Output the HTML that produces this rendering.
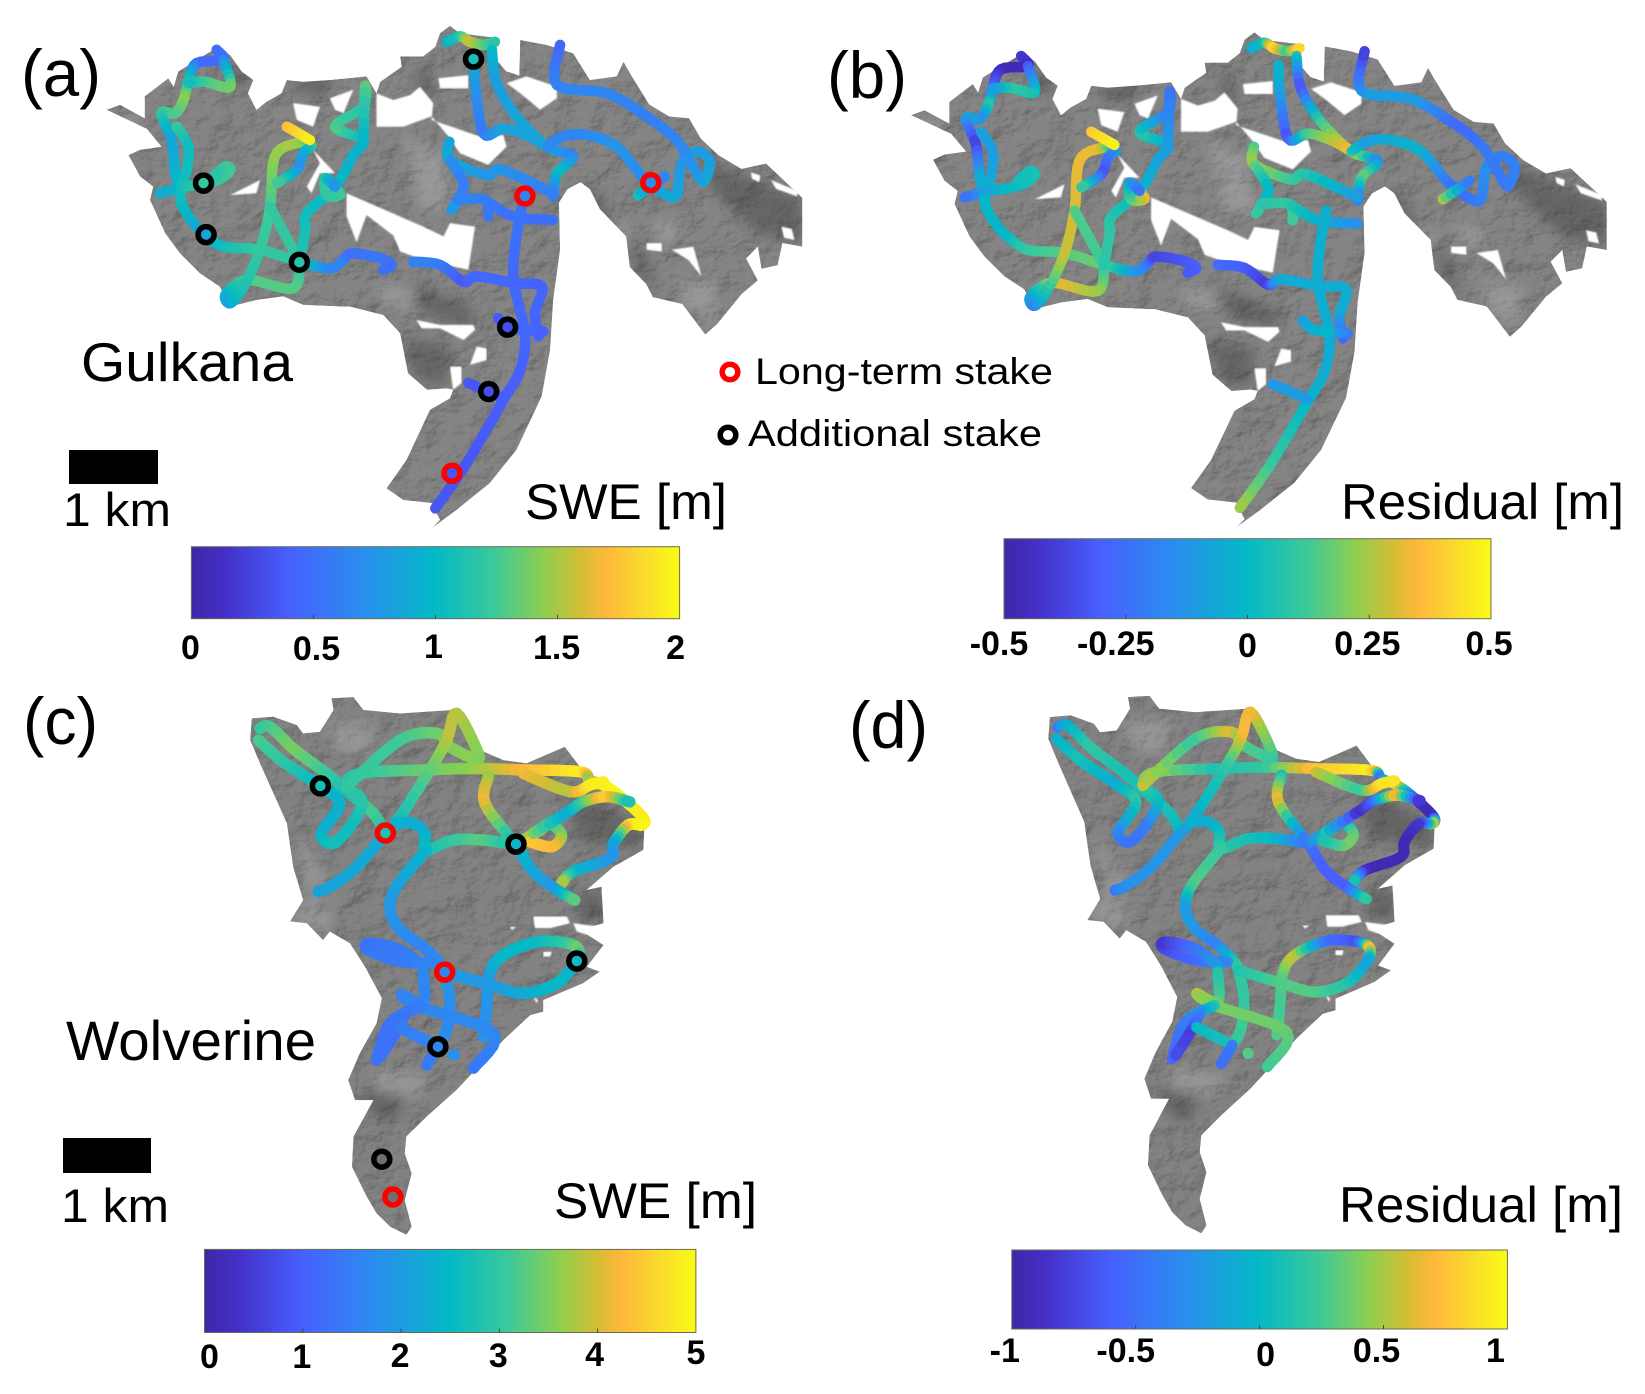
<!DOCTYPE html>
<html lang="en">
<head>
<meta charset="utf-8">
<title>Gulkana and Wolverine SWE and residual maps</title>
<style>
html,body{margin:0;padding:0;background:#fff;}
#figure{display:block;width:1645px;height:1394px;}
text{font-family:"Liberation Sans",sans-serif;fill:#000;}
.tick{font-weight:bold;font-size:34px;text-anchor:middle;}
</style>
</head>
<body>
<svg id="figure" xmlns="http://www.w3.org/2000/svg" width="1645" height="1394" viewBox="0 0 1645 1394">
<defs>
<filter id="hill" x="0" y="0" width="1" height="1" color-interpolation-filters="sRGB">
<feTurbulence type="fractalNoise" baseFrequency="0.035 0.045" numOctaves="4" seed="11" result="n"/>
<feDiffuseLighting in="n" surfaceScale="2" diffuseConstant="1.15" lighting-color="#fff" result="l"><feDistantLight azimuth="220" elevation="58"/></feDiffuseLighting>
<feBlend in="SourceGraphic" in2="l" mode="multiply" result="b"/>
<feComposite in="b" in2="SourceAlpha" operator="in"/>
</filter>
<filter id="soft" x="-30%" y="-30%" width="160%" height="160%"><feGaussianBlur stdDeviation="6"/></filter>
<filter id="edge" x="-2%" y="-2%" width="104%" height="104%"><feGaussianBlur stdDeviation="0.7"/></filter>
</defs>
<g id="maps"></g>
<g id="tracks"></g>
<g id="stakes"></g>
<g id="colorbars"></g>

<text x="21" y="96" font-size="66" textLength="80" lengthAdjust="spacingAndGlyphs">(a)</text>
<text x="827" y="98" font-size="66" textLength="80" lengthAdjust="spacingAndGlyphs">(b)</text>
<text x="23" y="744" font-size="66" textLength="75" lengthAdjust="spacingAndGlyphs">(c)</text>
<text x="849" y="748" font-size="66" textLength="79" lengthAdjust="spacingAndGlyphs">(d)</text>

<text x="81" y="381" font-size="55" textLength="212" lengthAdjust="spacingAndGlyphs">Gulkana</text>
<text x="66" y="1060" font-size="56" textLength="250" lengthAdjust="spacingAndGlyphs">Wolverine</text>

<rect x="69" y="450" width="89" height="34" fill="#000"/>
<text x="63" y="526" font-size="47" textLength="108" lengthAdjust="spacingAndGlyphs">1 km</text>
<rect x="63" y="1138" width="88" height="35" fill="#000"/>
<text x="61" y="1222" font-size="47" textLength="108" lengthAdjust="spacingAndGlyphs">1 km</text>

<text x="525" y="519" font-size="50" textLength="202" lengthAdjust="spacingAndGlyphs">SWE [m]</text>
<text x="1341" y="519" font-size="50" textLength="283" lengthAdjust="spacingAndGlyphs">Residual [m]</text>
<text x="554" y="1218" font-size="50" textLength="203" lengthAdjust="spacingAndGlyphs">SWE [m]</text>
<text x="1339" y="1222" font-size="50" textLength="284" lengthAdjust="spacingAndGlyphs">Residual [m]</text>

<g>
<circle cx="730" cy="372" r="7.8" fill="none" stroke="#f00" stroke-width="5.5"/>
<text x="755" y="384" font-size="37" textLength="298" lengthAdjust="spacingAndGlyphs">Long-term stake</text>
<circle cx="728" cy="435" r="7.8" fill="none" stroke="#000" stroke-width="5.5"/>
<text x="748" y="446" font-size="37" textLength="294" lengthAdjust="spacingAndGlyphs">Additional stake</text>
</g>
</svg>

<script>
// Colormap anchors: position in [0,1], colour
const colorPositions = [0, 0.07, 0.2, 0.35, 0.5, 0.62, 0.72, 0.8, 0.85, 0.92, 1];
const colorHexes = ['#3f26a8','#4430c8','#4760ff','#2a8eee','#04b9c6','#3cc99a','#8ccf50','#d6bd34','#feb83a','#fad72e','#f9fb15'];

// Gulkana map geometry (map-grid units)
const gulkanaOutline = [203,247,229,236,276,266,276,217,321,176,331,195,340,161,375,135,416,105,439,124,461,161,483,180,473,210,489,247,508,229,537,210,547,180,578,184,629,180,699,172,718,210,725,184,766,150,763,127,807,127,830,105,839,75,858,58,877,75,953,86,941,127,965,160,990,170,992,90,1042,101,1093,120,1125,180,1176,172,1189,139,1205,172,1238,235,1276,262,1314,266,1336,311,1370,349,1414,380,1461,368,1530,445,1530,555,1492,547,1483,597,1452,605,1445,555,1423,582,1445,631,1414,662,1367,730,1345,753,1301,684,1245,669,1232,639,1201,601,1194,532,1144,471,1125,426,1107,410,1082,426,1066,456,1068,562,1055,675,1049,787,1033,892,985,1012,934,1087,871,1147,823,1189,839,1170,823,1132,769,1125,737,1099,775,1035,820,922,858,896,864,877,852,874,814,877,778,840,763,750,731,709,667,690,655,690,578,686,540,667,489,675,439,690,419,645,381,615,343,570,315,525,286,450,292,420,267,397,245,349,267,337,308,330,280,290];
const gulkanaHoles = [
 [661,435,807,510,846,532,858,502,906,510,893,607,807,585,763,566,750,530,699,484,680,545,661,487],
 [718,210,750,225,782,214,801,195,826,232,823,270,915,307,960,304,966,330,931,371,877,345,855,307,823,262,769,285,718,285],
 [559,232,610,240,597,285,566,270],
 [597,337,639,390,610,390,594,435,585,420,610,367],
 [629,221,674,202,655,255,639,247],
 [439,439,496,405,489,435],
 [496,191,512,191,493,247],
 [836,176,893,169,893,199,839,199],
 [966,187,1004,172,1062,195,1062,221,1030,247,992,210],
 [1233,547,1262,547,1262,566,1233,562],
 [1281,562,1322,555,1338,622,1313,585],
 [794,720,839,731,903,731,906,742,884,765,839,739,804,739],
 [909,780,928,784,928,810,896,821],
 [858,825,880,825,880,862,864,877],
 [1432,388,1450,395,1448,410,1434,402],
 [1470,405,1522,430,1520,442,1480,425],
 [1490,510,1510,515,1515,540,1495,535]
];
const gulkanaDark = [[1339,357,1530,448,1530,547,1445,525,1351,418],[770,760,860,780,850,870,790,850],[445,140,480,180,440,200,430,160],[1200,540,1240,590,1250,660,1210,600],[560,185,640,160,620,215,570,210],[950,90,945,130,900,110],[810,135,830,230,790,190],[1110,410,1150,450,1170,520,1140,500],[790,640,900,690,900,740,800,700]];
const gulkanaLight = [[1290,623,1370,640,1355,735,1300,680],[1170,490,1210,520,1190,550],[205,250,270,270,250,300],[770,300,840,340,860,470,800,470],[720,640,800,660,790,700,720,680],[1230,500,1300,500,1280,560]];

// Gulkana survey tracks: map-grid positions
const gulkanaX = [
 [413,426,375,359,350,334,308,327,334,340,305],
 [426,439,391,359],
 [337,359,356,346,346,369,392,426,496,571,629,655,671,725,747,731],
 [346,389,423,439,429,407],
 [571,559,477,445,429,440,464,496,515,524,566,594,578,566,528],
 [515,571],
 [547,591],
 [571,582,585,639,674,693,639,693,696,693],
 [639,648,623,620,639],
 [852,877,896,922,944],
 [938,947,985,1043,1093,1062,1055],
 [904,906,922,960,1004,1043],
 [1043,1074,1119,1176,1224,1241,1265,1290,1300,1329,1354,1341,1322,1290,1233,1157,1062,1068],
 [1217,1268],
 [857,858,928,957,1055],
 [858,884,877,861],
 [871,925,931],
 [925,979,1054],
 [995,982,980,1001,992,960,890,830],
 [788,839,884,909,980,1033,1020,1027],
 [1036,998],
 [950,968,998],
 [893,931,960]
];
const gulkanaY = [
 [112,135,142,184,225,255,255,315,390,420,435],
 [135,195,184,187],
 [285,330,382,420,457,502,529,555,562,589,604,585,570,581,596,607],
 [420,414,401,382,375,397],
 [589,649,630,645,667,682,645,562,465,352,322,326,345,382,412],
 [465,589],
 [285,315],
 [589,517,480,420,349,315,285,240,195,315],
 [420,439,439,401,420],
 [94,82,94,101,94],
 [112,187,262,330,352,390,442],
 [133,187,300,289,304,330],
 [330,307,304,330,397,412,435,439,367,341,364,409,375,315,262,210,191,101],
 [439,397],
 [319,360,394,382,435],
 [360,412,442,472],
 [450,450,487],
 [450,487,495],
 [465,555,637,750,832,900,1042,1144],
 [589,596,634,622,637,645,705,757],
 [746,742],
 [716,736,742],
 [862,881,896]
];
const gulkanaSWE = [
 [0.5,0.5,0.45,1.1,1.45,1.3,1.25,0.85,0.95,1.0,0.9],
 [0.6,1.4,1.3,1.05],
 [1.25,1.05,1.05,1.05,1.05,0.95,0.8,1.05,1.2,1.2,0.65,0.65,0.5,0.55,0.5,0.5],
 [1.05,1.2,1.2,1.25,1.25,1.15],
 [1.15,1.3,1.3,1.15,0.95,0.85,1.1,1.2,1.25,1.45,1.5,1.3,0.95,0.7,1.3],
 [1.2,1.2],
 [1.7,1.95],
 [1.15,1.1,1.05,1.0,0.95,0.95,1.3,1.15,1.35,0.95],
 [0.95,1.25,1.2,1.2,0.7],
 [0.95,1.1,1.6,1.35,1.15],
 [1.05,0.8,0.85,0.9,0.6,1.05,0.55],
 [0.95,0.8,0.55,0.85,0.85,0.85],
 [0.7,0.65,0.65,0.75,0.7,0.7,0.85,0.9,0.75,0.8,0.8,0.9,0.75,0.65,0.6,0.65,0.65,0.45],
 [1.1,0.6],
 [0.85,0.9,0.75,0.75,0.6],
 [0.75,0.6,0.6,0.8],
 [0.65,0.6,0.55],
 [0.6,0.5,0.5],
 [0.55,0.5,0.45,0.45,0.4,0.4,0.35,0.35],
 [0.65,0.6,0.35,0.45,0.45,0.4,0.45,0.4],
 [0.4,0.45],
 [0.35,0.4,0.45],
 [0.35,0.35,0.4]
];
const gulkanaResidual = [
 [-0.4,-0.45,-0.48,-0.3,0.1,-0.15,-0.05,-0.4,-0.05,-0.05,-0.25],
 [-0.35,0.02,0.1,-0.1],
 [-0.08,-0.1,-0.08,-0.02,0,-0.02,0,0.1,0.15,0.18,-0.1,-0.2,-0.38,-0.33,-0.3,-0.32],
 [-0.1,0,0.03,0.05,0.05,0.03],
 [0.05,0.22,0.32,0.1,-0.05,-0.2,0.05,0.28,0.3,0.33,0.32,-0.05,-0.2,-0.35,0.15],
 [0.15,0.12],
 [0.38,0.48],
 [0.08,0.1,0.08,0,-0.08,-0.08,0.1,-0.2,-0.25,-0.1],
 [0.05,0.35,0.2,-0.05,-0.25],
 [-0.05,0,0.45,0.1,0.45],
 [0.1,-0.35,0.1,0.35,-0.2,0.2,-0.25],
 [0,-0.05,-0.35,0.12,0.25,0.35],
 [0.1,-0.1,-0.05,-0.02,-0.2,-0.25,-0.25,-0.2,-0.15,-0.2,-0.2,-0.2,-0.22,-0.22,-0.28,-0.1,-0.1,-0.4],
 [0.3,-0.25],
 [0.12,0.25,0.12,0.08,-0.1],
 [0.2,0,0,0.12],
 [0.08,0.1,0.12],
 [0.1,-0.03,-0.15],
 [-0.03,-0.03,-0.03,-0.05,-0.05,-0.02,0.1,0.25],
 [-0.25,-0.3,-0.4,-0.05,-0.05,-0.05,-0.05,-0.3],
 [-0.25,-0.05],
 [-0.1,-0.05,0],
 [-0.12,-0.1,-0.1]
];

// Gulkana stakes
const gulkanaLongTermX = [1001,1241,862];
const gulkanaLongTermY = [441,411,1065];
const gulkanaLongTermSWE = [0.65,0.7,0.35];
const gulkanaExtraX = [903,388,393,571,968,932];
const gulkanaExtraY = [133,412,528,590,736,881];
const gulkanaExtraSWE = [1.1,1.2,0.85,1.15,0.3,0.3];

// Wolverine map geometry (map-grid units)
const wolverineOutline = [480,48,521,44,566,63,578,82,610,78,636,29,632,3,674,0,693,29,763,37,864,29,877,40,915,119,960,142,1004,149,1077,112,1106,157,1230,262,1227,344,1170,382,1119,434,1147,427,1151,509,1106,524,1151,558,1119,607,1144,618,1112,644,1036,682,1036,708,1011,716,960,772,871,884,814,944,775,989,772,1027,785,1072,772,1132,785,1192,775,1210,744,1192,718,1162,699,1124,671,1057,674,989,712,907,677,907,664,862,686,802,718,734,728,678,696,607,667,554,629,528,616,547,585,509,553,505,578,457,559,382,547,284,496,150,477,97];
const wolverineHoles = [
 [1017,494,1081,494,1087,509,1049,520,1020,520],
 [1093,509,1144,517,1119,535,1100,528],
 [972,517,985,517,976,524],
 [1036,573,1052,573,1049,584,1036,584],
 [1017,674,1026,682,1023,689]
];
const wolverineDark = [[1080,200,1225,290,1225,340,1100,320],[700,880,790,900,740,960,690,920],[1100,440,1150,440,1150,505,1100,500]];
const wolverineLight = [[555,505,585,440,640,500,620,530],[560,300,620,400,640,480,590,440],[620,60,720,50,700,130,640,120],[720,830,830,860,780,920,710,890]];

// Wolverine survey tracks: map-grid positions
const wolverineX = [
 [607,629,677,735],
 [496,515,562,623,667,712,735],
 [493,540,610,648,613,636,674,690,661,686,814,903,998,1106,1125,1157,1195,1227,1224,1198,1170,1163,1093,1071],
 [661,763,833,858,903,912,871,852,820,756,735],
 [756,788,810,813,864,922,983],
 [813,756,744,763,807,839,847,858,852,835],
 [931,925,983,1017,1062,1096],
 [983,1030,1049,1071,1052,1011],
 [1017,1084,1112,1157,1201],
 [998,1087,1125,1151],
 [847,934,998,1062,1100],
 [922,928,934,960,1023,1081,1103,1100],
 [826,763,702,706,763,807],
 [807,807,766,801,941,903],
 [801,744,718],
 [775,750,725],
 [766,835],
 [835,814],
 [866,866]
];
const wolverineY = [
 [438,427,386,307],
 [71,67,119,172,217,262,307],
 [97,146,200,240,307,329,281,232,202,172,164,161,164,168,187,202,236,273,288,288,329,363,393,419],
 [202,97,82,112,138,127,37,97,164,281,307],
 [284,284,307,344,322,322,332],
 [344,427,479,524,562,599,618,682,749,787],
 [179,240,332,393,434,457],
 [332,299,285,311,337,326],
 [307,258,236,224,236],
 [172,213,198,191],
 [618,648,667,644,595],
 [764,697,622,581,551,554,569,595],
 [599,595,569,554,569,607],
 [622,689,670,697,757,835],
 [697,734,817],
 [708,764,809],
 [746,787],
 [787,828],
 [805,805]
];
const wolverineSWE = [
 [2.1,2.1,2.2,2.2],
 [3,3.1,3.5,3.1,2.7,3.2,2.8],
 [3.2,3,2.5,2.4,2.3,2.7,2.6,2.9,2.9,2.9,3.4,3.6,4.2,4.9,3.5,4.9,4.9,4.8,4.95,4.9,2.2,1.8,2.4,3.9],
 [3,3.1,3.4,3.5,3.6,3.5,3.8,3.9,3.4,2.7,2.5],
 [2.4,2.3,2.3,2.6,3,3.3,2.7],
 [2.5,2.1,1.9,1.8,1.6,1.7,2,1.8,1.7,1.7],
 [3.6,4.2,2.6,2.2,1.9,3.4],
 [3,4.2,3,3.4,4.2,4.4],
 [3.6,2.2,3,4.6,2.6],
 [4.2,3.8,4.8,4.9],
 [2,1.9,2.2,2.5,2.4],
 [1.8,1.8,2,2.5,2.5,3,3.5,2.5],
 [1.6,1.4,1.4,1.3,1.4,1.6],
 [1.7,1.6,1.6,1.6,1.7,1.4],
 [1.5,1.3,1.3],
 [1.4,1.3,1.3],
 [1.5,1.6],
 [1.6,1.4],
 [1.8,1.8]
];
const wolverineResidual = [
 [-0.5,-0.3,-0.25,-0.25],
 [-0.5,-0.1,0.2,0.1,0.1,0.1,0],
 [-0.1,0.1,-0.1,0.2,-0.3,-0.5,-0.4,0,0.2,0.5,0.1,0.2,0.75,0.95,-0.6,0.9,-0.9,-0.95,0.7,-0.8,-0.95,-0.95,-0.95,0.2],
 [0.6,0.2,0.65,0.3,0.25,0.2,0.65,0.7,0.2,-0.1,-0.2],
 [0,-0.1,0,0.2,0.1,0,-0.5],
 [0.2,0.3,-0.2,-0.2,-0.4,0.1,0.2,0.2,0.25,0.2],
 [0,0.7,-0.5,-0.6,-0.6,0.25],
 [-0.5,0.2,-0.2,0.3,0.4,0.1],
 [0.2,-0.9,-0.6,0.8,-0.95],
 [0.6,0.2,0.9,0.9],
 [0.1,0.3,0.3,0.15,-0.2],
 [0.3,0.25,0.3,0.6,-0.5,-0.7,0.8,-0.2],
 [-0.3,-0.5,-0.7,-0.85,-0.5,-0.2],
 [0.1,0.3,0.55,0.4,0.35,0.25],
 [0.2,-0.4,-0.55],
 [-0.2,-0.8,-0.7],
 [0,0.1],
 [-0.4,-0.5],
 [0.3,0.3]
];

// Wolverine stakes
const wolverineLongTermX = [735,848,749];
const wolverineLongTermY = [306,619,1125];
const wolverineLongTermSWE = [2.8,1.7,null];
const wolverineExtraX = [611,984,1100,835,728];
const wolverineExtraY = [200,331,594,787,1040];
const wolverineExtraSWE = [2.7,2.4,2.6,1.6,null];

// Colorbar ticks
const swe2Ticks = [0,0.5,1,1.5,2];
const swe2Labels = ['0','0.5','1','1.5','2'];
const res05Ticks = [-0.5,-0.25,0,0.25,0.5];
const res05Labels = ['-0.5','-0.25','0','0.25','0.5'];
const swe5Ticks = [0,1,2,3,4,5];
const swe5Labels = ['0','1','2','3','4','5'];
const res1Ticks = [-1,-0.5,0,0.5,1];
const res1Labels = ['-1','-0.5','0','0.5','1'];

const SVGNS = 'http://www.w3.org/2000/svg';
function hexRgb(h){return [1,3,5].map(i=>parseInt(h.substr(i,2),16));}
function colorAt(t){
  t=Math.max(0,Math.min(1,t));
  for(let i=1;i<colorPositions.length;i++){
    if(t<=colorPositions[i]){
      const f=(t-colorPositions[i-1])/(colorPositions[i]-colorPositions[i-1]);
      const a=hexRgb(colorHexes[i-1]),b=hexRgb(colorHexes[i]);
      return 'rgb('+a.map((c,k)=>Math.round(c+(b[k]-c)*f)).join(',')+')';
    }
  }
  return colorHexes[colorHexes.length-1];
}
function make(tag,attrs){
  const el=document.createElementNS(SVGNS,tag);
  for(const k in attrs) el.setAttribute(k,attrs[k]);
  return el;
}
function ptsString(flat,sx,sy){
  const out=[];
  for(let i=0;i+1<flat.length;i+=2) out.push(sx(flat[i]).toFixed(1)+','+sy(flat[i+1]).toFixed(1));
  return out.join(' ');
}
function drawMap(panel,outline,holes,dark,light,base,sx,sy){
  const maps=document.getElementById('maps');
  const g=make('g',{});
  
  
  const clipId='clip-'+panel;
  const clip=make('clipPath',{id:clipId});
  clip.appendChild(make('polygon',{points:ptsString(outline,sx,sy)}));
  document.querySelector('defs').appendChild(clip);
  const body=make('polygon',{points:ptsString(outline,sx,sy),fill:base,filter:'url(#hill)'});
  
  
  g.appendChild(body);
  const shade=make('g',{'clip-path':'url(#'+clipId+')'});
  
  
  dark.forEach(s=>{
    const p=make('polygon',{points:ptsString(s,sx,sy),fill:'#222',opacity:0.3,filter:'url(#soft)'});
    
    
    shade.appendChild(p);
  });
  light.forEach(s=>{
    const p=make('polygon',{points:ptsString(s,sx,sy),fill:'#ddd',opacity:0.22,filter:'url(#soft)'});
    
    
    shade.appendChild(p);
  });
  g.appendChild(shade);
  holes.forEach(s=>{
    const p=make('polygon',{points:ptsString(s,sx,sy),fill:'#fff',filter:'url(#edge)'});
    
    
    g.appendChild(p);
  });
  maps.appendChild(g);
}
// Smooth curve through the waypoints of a track, value blended along it
function curvePoint(p0,p1,p2,p3,t){
  const t2=t*t,t3=t2*t;
  return 0.5*((2*p1)+(-p0+p2)*t+(2*p0-5*p1+4*p2-p3)*t2+(-p0+3*p1-3*p2+p3)*t3);
}
function drawTracks(panel,xs,ys,vals,vmin,vmax,width,sx,sy){
  const layer=document.getElementById('tracks');
  const col=v=>colorAt((v-vmin)/(vmax-vmin));
  const steps=6;
  xs.forEach((tx,t)=>{
    const g=make('g',{'stroke-width':width,'stroke-linecap':'round',fill:'none'});
    
    
    const ty=ys[t],tv=vals[t],n=tx.length;
    for(let i=0;i<n-1;i++){
      const a=Math.max(i-1,0),c=i+1,d=Math.min(i+2,n-1);
      let px=sx(tx[i]),py=sy(ty[i]);
      for(let s=1;s<=steps;s++){
        const f=s/steps;
        const qx=sx(curvePoint(tx[a],tx[i],tx[c],tx[d],f));
        const qy=sy(curvePoint(ty[a],ty[i],ty[c],ty[d],f));
        const v=tv[i]+(tv[c]-tv[i])*(f-0.5/steps);
        const seg=make('line',{x1:px.toFixed(1),y1:py.toFixed(1),x2:qx.toFixed(1),y2:qy.toFixed(1),stroke:col(v)});
        
        
        g.appendChild(seg);
        px=qx;py=qy;
      }
    }
    layer.appendChild(g);
  });
}
function drawStakes(xs,ys,vals,stroke,name,vmin,vmax,sx,sy){
  const layer=document.getElementById('stakes');
  xs.forEach((x,i)=>{
    const fill=vals[i]===null?'#6f6f6f':colorAt((vals[i]-vmin)/(vmax-vmin));
    const c=make('circle',{cx:sx(x).toFixed(1),cy:sy(ys[i]).toFixed(1),r:8,fill:fill,stroke:stroke,'stroke-width':5.5});
    
    
    layer.appendChild(c);
  });
}
function drawColorbar(panel,x0,x1,y0,y1,vmin,vmax,ticks,labels,baseline,nudgeX,nudgeY){
  const layer=document.getElementById('colorbars');
  const defs=document.querySelector('defs');
  const grad=make('linearGradient',{id:'cmap-'+panel,x1:0,y1:0,x2:1,y2:0});
  colorPositions.forEach((p,i)=>{grad.appendChild(make('stop',{offset:p,'stop-color':colorHexes[i]}));});
  defs.appendChild(grad);
  const g=make('g',{});
  
  
  const r=make('rect',{x:x0,y:y0,width:x1-x0,height:y1-y0,fill:'url(#cmap-'+panel+')',stroke:'#6b6b55','stroke-width':1});
  
  
  g.appendChild(r);
  const axis=v=>x0+(v-vmin)/(vmax-vmin)*(x1-x0);
  ticks.forEach((v,i)=>{
    const x=axis(v);
    if(i>0&&i<ticks.length-1){
      const t=make('line',{x1:x,x2:x,y1:y1,y2:y1-4,stroke:'#444','stroke-width':1});
      
      
      g.appendChild(t);
    }
    const lab=make('text',{class:'tick',x:(x+nudgeX[i]).toFixed(1),y:baseline+nudgeY[i]});
    
    
    lab.textContent=labels[i];
    g.appendChild(lab);
  });
  layer.appendChild(g);
}

// Axis functions: map-grid units to page pixels for each panel
const axA={x:v=>v*0.5244,y:v=>v*0.4444};
const axB={x:v=>804.5+v*0.5244,y:v=>7+v*0.4378};
const axC={x:v=>v*0.5244,y:v=>697+v*0.4444};
const axD={x:v=>803.1+v*0.5139,y:v=>695.7+v*0.4444};

drawMap('a',gulkanaOutline,gulkanaHoles,gulkanaDark,gulkanaLight,'#858585',axA.x,axA.y);
drawMap('b',gulkanaOutline,gulkanaHoles,gulkanaDark,gulkanaLight,'#858585',axB.x,axB.y);
drawMap('c',wolverineOutline,wolverineHoles,wolverineDark,wolverineLight,'#838383',axC.x,axC.y);
drawMap('d',wolverineOutline,wolverineHoles,wolverineDark,wolverineLight,'#838383',axD.x,axD.y);

drawTracks('a',gulkanaX,gulkanaY,gulkanaSWE,0,2,10.5,axA.x,axA.y);
drawTracks('b',gulkanaX,gulkanaY,gulkanaResidual,-0.5,0.5,10.5,axB.x,axB.y);
drawTracks('c',wolverineX,wolverineY,wolverineSWE,0,5,11.5,axC.x,axC.y);
drawTracks('d',wolverineX,wolverineY,wolverineResidual,-1,1,11,axD.x,axD.y);

drawStakes(gulkanaExtraX,gulkanaExtraY,gulkanaExtraSWE,'#000','additional-stake',0,2,axA.x,axA.y);
drawStakes(gulkanaLongTermX,gulkanaLongTermY,gulkanaLongTermSWE,'#f00','long-term-stake',0,2,axA.x,axA.y);
drawStakes(wolverineExtraX,wolverineExtraY,wolverineExtraSWE,'#000','additional-stake',0,5,axC.x,axC.y);
drawStakes(wolverineLongTermX,wolverineLongTermY,wolverineLongTermSWE,'#f00','long-term-stake',0,5,axC.x,axC.y);

drawColorbar('a',191.4,679.6,546.7,618.7,0,2,swe2Ticks,swe2Labels,659,[-1,3,-2,-1,-4],[0,1,-1,0,0]);
drawColorbar('b',1004,1491,538.7,618.7,-0.5,0.5,res05Ticks,res05Labels,655,[-5,-10,0,-2,-2],[0,0,2,0,0]);
drawColorbar('c',204.5,695.9,1249.4,1332.5,0,5,swe5Ticks,swe5Labels,1367,[5,-1,-1,-1,-3,0],[1,1,0,0,-1,-3]);
drawColorbar('d',1011.8,1507.4,1250,1329,-1,1,res1Ticks,res1Labels,1362,[-7,-10,6,-7,-12],[0,0,4,0,0]);
</script>
</body>
</html>
